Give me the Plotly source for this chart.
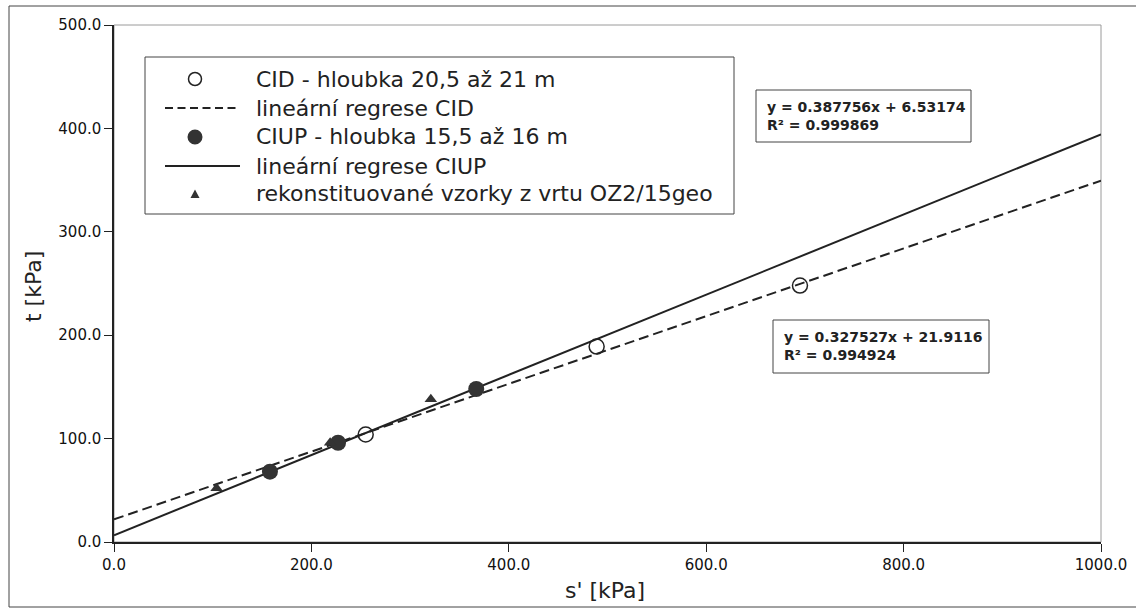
import plotly.graph_objects as go

# --- measured data -------------------------------------------------------
cid_s = [255, 489, 695]
cid_t = [104, 189, 248]

ciup_s = [158, 227, 367]
ciup_t = [68, 96, 148]

rek_s = [104, 219, 321]
rek_t = [52, 96, 138]

# linear regressions: [slope, intercept, R2]
reg_cid = [0.327527, 21.9116, 0.994924]
reg_ciup = [0.387756, 6.53174, 0.999869]

x_range = [0, 1000]
y_range = [0, 500]
x_ticks = [0, 200, 400, 600, 800, 1000]
y_ticks = [0, 100, 200, 300, 400, 500]

legend_labels = [
    "CID - hloubka 20,5 až 21 m",
    "lineární regrese CID",
    "CIUP - hloubka 15,5 až 16 m",
    "lineární regrese CIUP",
    "rekonstituované vzorky z vrtu OZ2/15geo",
]

# --- page geometry (pixels) ----------------------------------------------
W, H = 1136, 610
ML, MR, MT, MB = 114, 35, 25, 68
PW, PH = W - ML - MR, H - MT - MB
INK = "#222222"
FILL = "#333333"
FONT = "DejaVu Sans"


def px(xp):
    return (xp - ML) / PW


def py(yp):
    return (MT + PH - yp) / PH


def fit_line(coef):
    xs = list(x_range)
    return xs, [coef[0] * v + coef[1] for v in xs]


fig = go.Figure()

xs, ys = fit_line(reg_ciup)
fig.add_trace(go.Scatter(x=xs, y=ys, mode="lines",
                         line=dict(color=INK, width=2), showlegend=False))
xs, ys = fit_line(reg_cid)
fig.add_trace(go.Scatter(x=xs, y=ys, mode="lines",
                         line=dict(color=INK, width=2, dash="10px,5px"),
                         showlegend=False))

fig.add_trace(go.Scatter(x=cid_s, y=cid_t, mode="markers",
                         marker=dict(symbol="circle-open", size=15, color=INK,
                                     line=dict(color=INK, width=1.5)),
                         showlegend=False))
fig.add_trace(go.Scatter(x=ciup_s, y=ciup_t, mode="markers",
                         marker=dict(symbol="circle", size=16, color=FILL),
                         showlegend=False))
fig.add_trace(go.Scatter(x=rek_s, y=rek_t, mode="markers",
                         marker=dict(symbol="triangle-up", size=11, color=FILL),
                         showlegend=False))

shapes = []
annotations = []

# outer page frame
shapes.append(dict(type="rect", xref="paper", yref="paper",
                   x0=px(9), x1=px(1145), y0=py(607), y1=py(6),
                   line=dict(color="#444444", width=1), layer="below"))
# light plot frame (top / right)
shapes.append(dict(type="rect", xref="paper", yref="paper",
                   x0=0, x1=1, y0=0, y1=1,
                   line=dict(color="#9a9a9a", width=1), layer="below"))

# --- legend box --------------------------------------------------------------
lg_left, lg_right, lg_top, lg_bottom = 145, 734, 57, 214
row_y = [79, 108, 137, 166, 194]
sym_x = 195
text_x = 254
shapes.append(dict(type="rect", xref="paper", yref="paper",
                   x0=px(lg_left), x1=px(lg_right), y0=py(lg_bottom), y1=py(lg_top),
                   line=dict(color="#444444", width=1), fillcolor="white", layer="above"))

# open circle
shapes.append(dict(type="circle", xref="paper", yref="paper",
                   xsizemode="pixel", ysizemode="pixel",
                   xanchor=px(sym_x), yanchor=py(row_y[0]),
                   x0=-6.5, x1=6.5, y0=-6.5, y1=6.5,
                   line=dict(color=INK, width=1.5), layer="above"))
# dashed sample
shapes.append(dict(type="line", xref="paper", yref="paper",
                   x0=px(165), x1=px(240), y0=py(row_y[1]), y1=py(row_y[1]),
                   line=dict(color=INK, width=2, dash="8px,4.5px"), layer="above"))
# filled circle
shapes.append(dict(type="circle", xref="paper", yref="paper",
                   xsizemode="pixel", ysizemode="pixel",
                   xanchor=px(sym_x), yanchor=py(row_y[2]),
                   x0=-7.5, x1=7.5, y0=-7.5, y1=7.5,
                   fillcolor=FILL, line=dict(color=FILL, width=0),
                   layer="above"))
# solid sample
shapes.append(dict(type="line", xref="paper", yref="paper",
                   x0=px(165), x1=px(240), y0=py(row_y[3]), y1=py(row_y[3]),
                   line=dict(color=INK, width=2), layer="above"))
# triangle
shapes.append(dict(type="path", xref="paper", yref="paper",
                   xsizemode="pixel", ysizemode="pixel",
                   xanchor=px(sym_x), yanchor=py(row_y[4]),
                   path="M -4.5 -4 L 4.5 -4 L 0 4.5 Z",
                   fillcolor=FILL, line=dict(color=FILL, width=0),
                   layer="above"))

for label, yy in zip(legend_labels, row_y):
    annotations.append(dict(text=label, xref="paper", yref="paper",
                            x=px(text_x), y=py(yy), xanchor="left", yanchor="middle",
                            showarrow=False, font=dict(family=FONT, size=22, color=INK)))

# --- regression equation boxes ----------------------------------------------
def eq_box(coef, left, top, right, bottom, tx):
    shapes.append(dict(type="rect", xref="paper", yref="paper",
                       x0=px(left), x1=px(right), y0=py(bottom), y1=py(top),
                       line=dict(color="#444444", width=1), fillcolor="white",
                       layer="above"))
    txt = f"y = {coef[0]:g}x + {coef[1]:g}<br>R² = {coef[2]:g}"
    annotations.append(dict(text=txt, xref="paper", yref="paper",
                            x=px(tx), y=py((top + bottom) / 2),
                            xanchor="left", yanchor="middle", align="left",
                            showarrow=False,
                            font=dict(family=FONT, size=14, color=INK, weight="bold")))


eq_box(reg_ciup, 756, 90, 971, 142, 765)
eq_box(reg_cid, 773, 320, 989, 373, 782)

# --- axis titles ---------------------------------------------------------------
annotations.append(dict(text="t [kPa]", xref="paper", yref="paper",
                        x=px(33), y=py(287), textangle=-90,
                        xanchor="center", yanchor="middle", showarrow=False,
                        font=dict(family=FONT, size=22, color=INK)))
annotations.append(dict(text="s' [kPa]", xref="paper", yref="paper",
                        x=px(605), y=py(590),
                        xanchor="center", yanchor="middle", showarrow=False,
                        font=dict(family=FONT, size=22, color=INK)))

axis_common = dict(showgrid=False, zeroline=False, showline=True,
                   linecolor=INK, linewidth=1.5, ticks="outside", ticklen=8,
                   tickcolor=INK, tickwidth=1, tickformat=".1f",
                   tickfont=dict(family=FONT, size=15, color="#111111"))

fig.update_layout(
    width=W, height=H,
    margin=dict(l=ML, r=MR, t=MT, b=MB, autoexpand=False),
    paper_bgcolor="white", plot_bgcolor="white",
    showlegend=False,
    xaxis=dict(range=x_range, tickvals=x_ticks, **axis_common),
    yaxis=dict(range=y_range, tickvals=y_ticks, **axis_common),
    shapes=shapes,
    annotations=annotations,
)

fig.write_html("out.html")
